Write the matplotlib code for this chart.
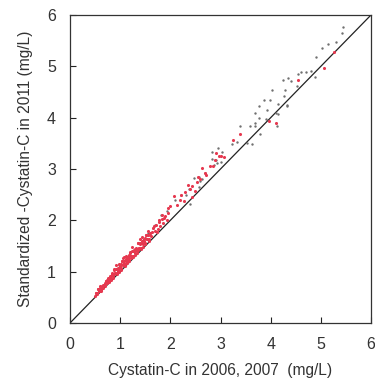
import matplotlib
matplotlib.use("Agg")
import matplotlib.pyplot as plt

plt.rcParams["font.family"] = ["Liberation Sans", "DejaVu Sans"]

# dense cluster (mostly red)
red_x = [0.50, 0.52, 0.54, 0.56, 0.58, 0.60, 0.62, 0.64, 0.66, 0.68, 0.70, 0.72, 0.74, 0.76, 0.78,
         0.80, 0.82, 0.84, 0.86, 0.88, 0.90, 0.92, 0.94, 0.96, 0.98, 1.00, 1.02, 1.04, 1.06, 1.08,
         1.10, 1.12, 1.14, 1.16, 1.18, 1.20, 1.22, 1.24, 1.26, 1.28, 1.30, 1.32, 1.34, 1.36, 1.38,
         1.40, 1.42, 1.44, 1.46, 1.48, 1.50, 1.52, 1.54, 1.56, 1.58, 1.60,
         0.51, 0.53, 0.55, 0.57, 0.59, 0.61, 0.63, 0.65, 0.67, 0.69, 0.71, 0.73, 0.75, 0.77, 0.79,
         0.81, 0.83, 0.85, 0.87, 0.89, 0.91, 0.93, 0.95, 0.97, 0.99, 1.01, 1.03, 1.05, 1.07, 1.09,
         1.11, 1.13, 1.15, 1.17, 1.19, 1.21, 1.23, 1.25, 1.27, 1.29, 1.31, 1.33, 1.35, 1.37, 1.39,
         1.41, 1.43, 1.45, 1.47, 1.49, 1.51, 1.53, 1.55, 1.57, 1.59,
         0.62, 0.69, 0.74, 0.80, 0.84, 0.88, 0.92, 0.95, 0.98, 1.02, 1.05, 1.08, 1.11, 1.14, 1.17,
         1.21, 1.25, 1.30, 1.35, 1.40, 1.44, 1.50,
         1.62, 1.64, 1.65, 1.67, 1.69, 1.72, 1.73, 1.75, 1.77, 1.78, 1.80, 1.83, 1.83, 1.86, 1.88,
         1.90, 1.93, 1.96, 1.96,
         2.00, 2.07, 2.14, 2.19, 2.28, 2.35, 2.44, 2.49, 2.53, 2.64, 2.72, 2.79, 2.91, 2.97, 3.07,
         3.24, 3.39, 2.22, 2.44, 2.60, 2.86, 2.30, 2.40, 2.55, 2.70, 2.90, 3.00,
         3.96, 4.10, 4.55, 5.07, 5.27]
red_y = [0.52, 0.59, 0.58, 0.66, 0.63, 0.72, 0.65, 0.72, 0.68, 0.75, 0.74, 0.82, 0.79, 0.88, 0.81,
         0.92, 0.84, 0.94, 0.91, 1.04, 0.97, 1.13, 0.98, 1.08, 1.00, 1.10, 1.07, 1.20, 1.13, 1.29,
         1.14, 1.24, 1.16, 1.26, 1.23, 1.39, 1.31, 1.48, 1.31, 1.43, 1.33, 1.44, 1.40, 1.55, 1.47,
         1.64, 1.47, 1.59, 1.49, 1.60, 1.56, 1.71, 1.63, 1.80, 1.63, 1.75,
         0.59, 0.56, 0.66, 0.62, 0.68, 0.63, 0.69, 0.75, 0.75, 0.72, 0.82, 0.78, 0.84, 0.79, 0.85,
         0.87, 0.96, 0.88, 1.05, 0.97, 1.05, 0.95, 1.06, 1.03, 1.12, 1.04, 1.21, 1.13, 1.21, 1.11,
         1.22, 1.19, 1.28, 1.20, 1.37, 1.31, 1.40, 1.28, 1.40, 1.37, 1.47, 1.37, 1.56, 1.47, 1.56,
         1.44, 1.56, 1.53, 1.63, 1.53, 1.72, 1.63, 1.72, 1.60, 1.72,
         0.69, 0.78, 0.84, 0.89, 0.97, 0.96, 1.06, 1.02, 1.15, 1.14, 1.26, 1.17, 1.30, 1.24, 1.33,
         1.27, 1.41, 1.45, 1.43, 1.53, 1.68, 1.66,
         1.70, 1.78, 1.86, 1.88, 1.80, 1.90, 1.78, 1.84, 2.01, 1.96, 1.88, 2.02, 2.11, 1.95, 2.05,
         2.08, 2.00, 2.14, 2.24,
         2.27, 2.48, 2.30, 2.40, 2.38, 2.68, 2.67, 2.57, 2.74, 3.01, 2.88, 3.05, 3.31, 3.26, 3.23,
         3.57, 3.68, 2.50, 2.46, 2.80, 3.05, 2.55, 2.62, 2.85, 2.92, 3.18, 3.26,
         3.93, 3.90, 4.74, 4.96, 5.28]

# scattered darker points
dark_x = [5.45, 5.43, 5.31, 5.15, 5.03, 4.91, 4.81, 4.70, 4.61, 4.55, 4.88, 4.35, 4.25, 4.40, 4.52,
          4.28, 4.02, 4.26, 4.15, 4.33, 3.87, 3.98, 4.32, 3.76, 3.93, 3.68, 4.10, 4.14, 3.77, 3.90,
          3.68, 3.59, 3.68, 4.12, 3.39, 3.78, 3.32, 3.52, 3.62, 3.23, 2.96, 2.83, 3.03, 2.84, 2.92,
          3.01, 2.94, 2.88, 2.70, 2.57, 2.48, 2.64, 2.59, 2.38, 2.58, 2.22, 2.32, 2.09, 2.39, 1.93,
          1.81, 1.77, 1.69, 1.65, 1.55, 1.46, 0.98]
dark_y = [5.76, 5.65, 5.48, 5.44, 5.35, 5.18, 4.90, 4.89, 4.88, 4.85, 4.80, 4.77, 4.74, 4.72, 4.62,
          4.54, 4.54, 4.43, 4.26, 4.24, 4.34, 4.35, 4.22, 4.22, 4.15, 4.10, 4.09, 4.07, 3.99, 3.98,
          3.89, 3.83, 3.83, 3.84, 3.84, 3.68, 3.53, 3.50, 3.48, 3.49, 3.40, 3.33, 3.33, 3.20, 3.18,
          3.14, 3.11, 3.08, 2.92, 2.85, 2.82, 2.81, 2.76, 2.62, 2.64, 2.50, 2.49, 2.40, 2.32, 2.19,
          2.11, 2.01, 1.91, 1.86, 1.75, 1.62, 1.13]

ticks = [0, 1, 2, 3, 4, 5, 6]

fig = plt.figure(figsize=(3.75, 3.84), dpi=100, facecolor="white")
ax = fig.add_axes([70 / 375, 61 / 384, 301 / 375, 308 / 384])

ax.plot([0, 6], [0, 6], color="#222222", linewidth=0.9, zorder=2)
ax.scatter(dark_x, dark_y, s=3, color="#707070", marker="o", linewidths=0, zorder=3)
ax.scatter(red_x, red_y, s=5, color="#e6384f", marker="o", linewidths=0, zorder=4)

ax.set_xlim(0, 6)
ax.set_ylim(0, 6)
ax.set_xticks(ticks)
ax.set_yticks(ticks)
ax.tick_params(direction="in", length=4, width=0.8, labelsize=11.5,
               colors="#222222", labelcolor="#333333", pad=10)
for spine in ax.spines.values():
    spine.set_color("#333333")
    spine.set_linewidth(0.9)

ax.set_xlabel("Cystatin-C in 2006, 2007  (mg/L)", fontsize=11.2, color="#333333", labelpad=8)
ax.set_ylabel("Standardized -Cystatin-C in 2011 (mg/L)", fontsize=11.2, color="#333333", labelpad=10)

fig.savefig("out.png", dpi=100, facecolor="white")
